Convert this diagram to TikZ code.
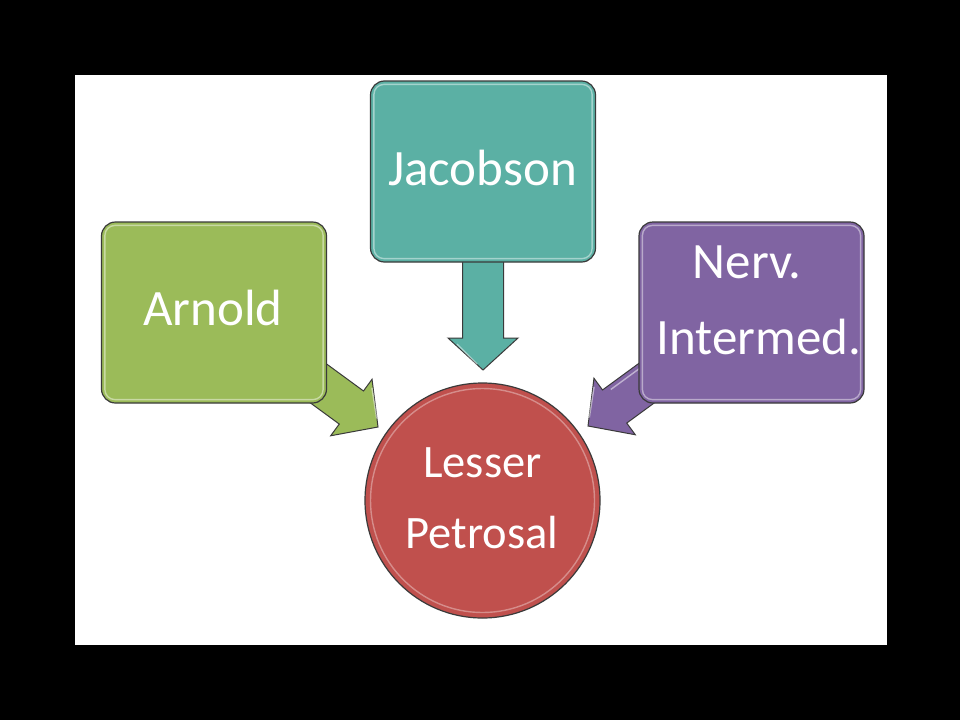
\documentclass[tikz,border=0pt]{standalone}
\usepackage{fontspec}
\setmainfont{Carlito}
\definecolor{cgreen}{HTML}{9BBB59}
\definecolor{cteal}{HTML}{5BB0A4}
\definecolor{cpurple}{HTML}{8064A2}
\definecolor{cred}{HTML}{C0504D}
\definecolor{outl}{HTML}{3A3A3A}
\begin{document}
\begin{tikzpicture}[x=1pt,y=-1pt,
  box/.style={draw=outl, line width=1.2pt, rounded corners=14pt, minimum width=225pt, minimum height=181pt, inner sep=0pt},
  hl/.style={draw=white, draw opacity=0.45, line width=1.4pt, rounded corners=10pt},
  lbl/.style={text=white, font=\fontsize{51}{60}\selectfont, anchor=base, inner sep=0pt},
  lblc/.style={lbl, font=\fontsize{46.5}{56}\selectfont},
  blk/.style={draw=outl, line width=1pt, line join=miter},
  blkhl/.style={draw=white, draw opacity=0.5, line width=1.4pt}
]
\useasboundingbox (0,0) rectangle (960,720);
\fill[black] (0,0) rectangle (960,720);
\fill[white] (75,75) rectangle (887,645);

% arrow tips
\coordinate (gtip) at (378,427);
\coordinate (ttip) at (483,370);
\coordinate (ptip) at (588,426);

% block arrows (drawn below the boxes)
\begin{scope}[shift={(gtip)}, rotate=-36.2]
  \draw[blk, fill=cgreen] (0,0) -- (-33,-35) -- (-33,-20.5) -- (-120,-20.5) -- (-120,20.5) -- (-33,20.5) -- (-33,35) -- cycle;
  \draw[blkhl] (-6,-6) -- (-28,-28);
\end{scope}
\begin{scope}[shift={(ttip)}, rotate=-90]
  \draw[blk, fill=cteal] (0,0) -- (-32,-35) -- (-32,-20.5) -- (-120,-20.5) -- (-120,20.5) -- (-32,20.5) -- (-32,35) -- cycle;
  \draw[blkhl] (-6,6) -- (-26,26);
\end{scope}
\begin{scope}[shift={(ptip)}, rotate=-143.8]
  \draw[blk, fill=cpurple] (0,0) -- (-33,-35) -- (-33,-20.5) -- (-120,-20.5) -- (-120,20.5) -- (-33,20.5) -- (-33,35) -- cycle;
  \draw[blkhl] (-6,6) -- (-28,28);
  \draw[blkhl] (-40,16) -- (-75,16);
\end{scope}

% boxes
\node[box, fill=cgreen] (arnold) at (214,312.5) {};
\node[box, fill=cteal] (jacobson) at (483,171.5) {};
\node[box, fill=cpurple] (nerv) at (751.5,312.5) {};
\foreach \b in {arnold,jacobson,nerv}
  \draw[hl] ([shift={(4,4)}]\b.north west) rectangle ([shift={(-4,-4)}]\b.south east);

% circle
\node[circle, draw=outl, line width=1.2pt, fill=cred, minimum size=235pt, inner sep=0pt] (lp) at (482.5,500.5) {};
\draw[white, draw opacity=0.35, line width=1.4pt] (lp.center) circle (112pt);

% labels
\node[lbl] (tarnold) at (213,325) {Arnold};
\node[lbl] (tjac) at (482.5,185) {Jacobson};
\node[lbl] (tnerv1) at (747,278) {Nerv.};
\node[lbl] (tnerv2) at (759,354) {Intermed.};
\node[lblc] (tles1) at (482.5,477) {Lesser};
\node[lblc] (tles2) at (482,548) {Petrosal};
\end{tikzpicture}
\end{document}
